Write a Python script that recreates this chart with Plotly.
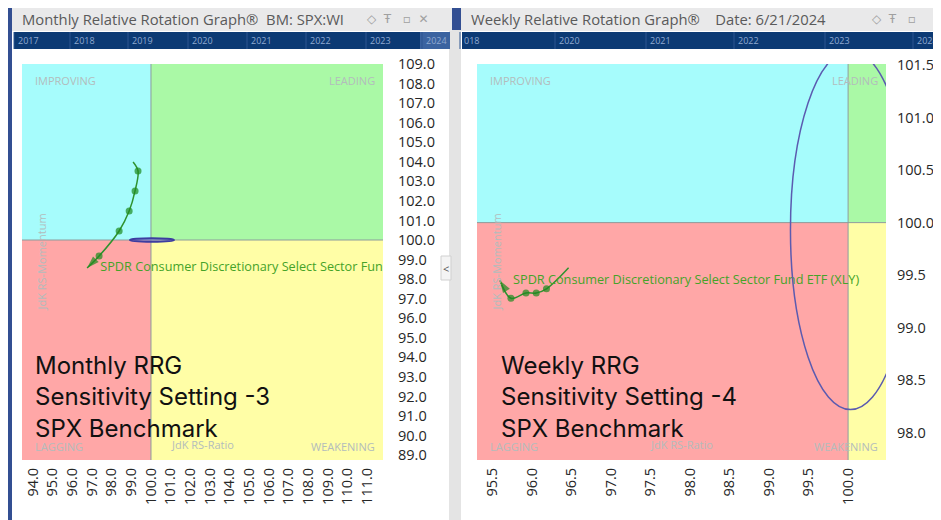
import plotly.graph_objects as go

W, H = 941, 520

# ---------------- data ----------------
# Monthly RRG trail (JdK RS-Ratio, JdK RS-Momentum), oldest -> newest
m_ratio = [99.09, 99.34, 99.19, 98.89, 98.38, 97.36, 96.75]
m_mom = [103.99, 103.53, 102.51, 101.48, 100.46, 99.18, 98.57]
# Weekly RRG trail
w_ratio = [96.46, 96.18, 96.05, 95.92, 95.73, 95.59]
w_mom = [99.57, 99.37, 99.33, 99.33, 99.28, 99.45]

series_name = "SPDR Consumer Discretionary Select Sector Fund ETF (XLY)"

m_xticks = [94.0, 95.0, 96.0, 97.0, 98.0, 99.0, 100.0, 101.0, 102.0, 103.0,
            104.0, 105.0, 106.0, 107.0, 108.0, 109.0, 110.0, 111.0]
m_yticks = [89.0, 90.0, 91.0, 92.0, 93.0, 94.0, 95.0, 96.0, 97.0, 98.0, 99.0,
            100.0, 101.0, 102.0, 103.0, 104.0, 105.0, 106.0, 107.0, 108.0, 109.0]
w_xticks = [95.5, 96.0, 96.5, 97.0, 97.5, 98.0, 98.5, 99.0, 99.5, 100.0]
w_yticks = [98.0, 98.5, 99.0, 99.5, 100.0, 100.5, 101.0, 101.5]

m_years = ["2017", "2018", "2019", "2020", "2021", "2022", "2023", "2024"]
w_years = ["018", "2020", "2021", "2022", "2023", "2024"]

# ---------------- helpers ----------------
OFF = 8  # page offset of the figure inside the browser window


def px(x):
    return (x - OFF) / W


def py(y):
    return 1 - (y - OFF) / H


M_XR = [93.44, 111.8]
M_YR = [88.75, 109.0]
W_XR = [95.30, 100.48]
W_YR = [97.74, 101.51]

C_IMP = "#a6fcfc"
C_LEAD = "#aaf9a6"
C_LAG = "#ffa7a7"
C_WEAK = "#fffea6"
C_DIV = "#8c9c9c"
C_TRAIL = "#2f922f"
C_LABEL = "#45a329"
C_ZONE = "#b3bcbc"
FONT = "Open Sans"

fig = go.Figure()

shapes = []
annotations = []


def rect_paper(x0, y0, x1, y1, color, line=None):
    shapes.append(dict(type="rect", xref="paper", yref="paper",
                       x0=px(x0), x1=px(x1), y0=py(y1), y1=py(y0),
                       fillcolor=color, line=dict(width=0) if line is None else line,
                       layer="below"))


# panels
rect_paper(12, 8, 450, 530, "#ffffff")
rect_paper(449, 30, 461, 530, "#e4e4e4")
rect_paper(461, 8, 951, 530, "#ffffff")
# title bars
rect_paper(12, 8, 452, 31, "#e9e9ea")
rect_paper(461, 8, 951, 31, "#e9e9ea")
# timeline strips
rect_paper(14, 32, 450, 49, "#0c3a74")
rect_paper(420, 32, 450, 49, "#3b63a0")
rect_paper(462, 32, 951, 49, "#0c3a74")
# small tab
rect_paper(441, 256, 451, 280, "#f4f4f4", line=dict(color="#d0d0d0", width=1))
annotations.append(dict(x=px(446), y=py(268), xref="paper", yref="paper", text="<",
                        showarrow=False, font=dict(size=11, color="#555", family=FONT)))

m_year_x = [16, 72, 130, 190, 249, 308, 368, 424]
w_year_x = [462, 557, 648, 736, 827, 915]
for labels, xs in ((m_years, m_year_x), (w_years, w_year_x)):
    for label, xp in zip(labels, xs):
        annotations.append(dict(x=px(xp), y=py(40.5), xref="paper", yref="paper", text=label,
                                showarrow=False, xanchor="left", yanchor="middle",
                                font=dict(size=9, color="#8fa9d0", family=FONT)))
        shapes.append(dict(type="line", xref="paper", yref="paper", x0=px(xp - 2), x1=px(xp - 2),
                           y0=py(49), y1=py(32), line=dict(color="#2d5590", width=1),
                           layer="below"))

annotations.append(dict(x=px(20), y=py(19), xref="paper", yref="paper",
                        text="Monthly Relative Rotation Graph®  BM: SPX:WI", showarrow=False,
                        xanchor="left", yanchor="middle",
                        font=dict(size=14.8, color="#5a5a5a", family=FONT)))
annotations.append(dict(x=px(365), y=py(19), xref="paper", yref="paper",
                        text="◇  Ŧ   ▫  ✕", showarrow=False, xanchor="left", yanchor="middle",
                        font=dict(size=12, color="#a0a0a0", family="DejaVu Sans")))
annotations.append(dict(x=px(469), y=py(19), xref="paper", yref="paper",
                        text="Weekly Relative Rotation Graph®    Date: 6/21/2024", showarrow=False,
                        xanchor="left", yanchor="middle",
                        font=dict(size=14.8, color="#5a5a5a", family=FONT)))
annotations.append(dict(x=px(870), y=py(19), xref="paper", yref="paper",
                        text="◇  Ŧ   ▫", showarrow=False, xanchor="left", yanchor="middle",
                        font=dict(size=12, color="#a0a0a0", family="DejaVu Sans")))


# ---------- quadrants ----------
def quadrants(xa, ya, xr, yr):
    for (x0, x1, y0, y1, c) in [
        (xr[0], 100, 100, yr[1], C_IMP),
        (100, xr[1], 100, yr[1], C_LEAD),
        (xr[0], 100, yr[0], 100, C_LAG),
        (100, xr[1], yr[0], 100, C_WEAK),
    ]:
        shapes.append(dict(type="rect", xref=xa, yref=ya, x0=x0, x1=x1, y0=y0, y1=y1,
                           fillcolor=c, line=dict(width=0), layer="below"))
    shapes.append(dict(type="line", xref=xa, yref=ya, x0=100, x1=100, y0=yr[0], y1=yr[1],
                       line=dict(color=C_DIV, width=1), layer="below"))
    shapes.append(dict(type="line", xref=xa, yref=ya, x0=xr[0], x1=xr[1], y0=100, y1=100,
                       line=dict(color=C_DIV, width=1), layer="below"))
    d = xa + " domain"
    e = ya + " domain"
    zf = dict(size=11, color=C_ZONE, family=FONT)
    annotations.extend([
        dict(x=0, y=1, xref=d, yref=e, text="IMPROVING", showarrow=False, xanchor="left",
             yanchor="top", xshift=11, yshift=-7, font=zf),
        dict(x=1, y=1, xref=d, yref=e, text="LEADING", showarrow=False, xanchor="right",
             yanchor="top", xshift=-6, yshift=-7, font=zf),
        dict(x=0, y=0, xref=d, yref=e, text="LAGGING", showarrow=False, xanchor="left",
             yanchor="bottom", xshift=11, yshift=4, font=zf),
        dict(x=1, y=0, xref=d, yref=e, text="WEAKENING", showarrow=False, xanchor="right",
             yanchor="bottom", xshift=-6, yshift=4, font=zf),
        dict(x=0.5, y=0, xref=d, yref=e, text="JdK RS-Ratio", showarrow=False,
             yanchor="bottom", yshift=6, font=zf),
        dict(x=0, y=0.5, xref=d, yref=e, text="JdK RS-Momentum", showarrow=False,
             textangle=-90, xanchor="left", xshift=9, font=zf),
    ])


quadrants("x", "y", M_XR, M_YR)
quadrants("x2", "y2", W_XR, W_YR)

# ---------- rotation ellipses ----------
shapes.append(dict(type="circle", xref="x", yref="y", x0=98.93, x1=101.17, y0=99.91, y1=100.09,
                   line=dict(color="#3d3da0", width=2), fillcolor="rgba(120,120,210,0.5)"))
shapes.append(dict(type="circle", xref="x2", yref="y2", x0=99.27, x1=100.79, y0=98.22, y1=101.64,
                   line=dict(color="#5b5bb0", width=1.5)))


# ---------- trails ----------
def trail(xs, ys, xa, ya):
    n = len(xs)
    sizes = [0] + [7] * (n - 2) + [13]
    symbols = ["circle"] * (n - 1) + ["arrow"]
    fig.add_trace(go.Scatter(x=xs, y=ys, xaxis=xa, yaxis=ya, mode="lines+markers",
                             line=dict(color=C_TRAIL, width=1.5, shape="spline"),
                             marker=dict(size=sizes, symbol=symbols, color="#1e8a1e",
                                         angleref="previous", line=dict(width=0)),
                             hoverinfo="skip", cliponaxis=True))
    fig.add_trace(go.Scatter(x=[xs[-1]], y=[ys[-1]], xaxis=xa, yaxis=ya, mode="text",
                             text=["    " + series_name], textposition="middle right",
                             textfont=dict(size=12.7, color=C_LABEL, family=FONT),
                             hoverinfo="skip", cliponaxis=True))


trail(m_ratio, m_mom, "x", "y")
trail(w_ratio, w_mom, "x2", "y2")

# ---------- overlay text ----------
for xp, lines in [(33, ["Monthly RRG", "Sensitivity Setting -3", "SPX Benchmark"]),
                  (499, ["Weekly RRG", "Sensitivity Setting -4", "SPX Benchmark"])]:
    for i, t in enumerate(lines):
        annotations.append(dict(x=px(xp), y=py(365 + 31.5 * i), xref="paper", yref="paper",
                                text=t, showarrow=False, xanchor="left", yanchor="middle",
                                font=dict(size=24, color="#111111", family="Inter")))

# ---------- axes ----------
tickfont = dict(size=14.5, color="#262626", family=FONT)
common_x = dict(showgrid=False, zeroline=False, showline=False, tickangle=-90, tickmode="array",
                tickformat=".1f", tickfont=tickfont, ticks="", ticklabelstandoff=4,
                fixedrange=True, automargin=False)
common_y = dict(showgrid=False, zeroline=False, showline=False, side="right", tickmode="array",
                tickformat=".1f", tickfont=tickfont, ticks="", fixedrange=True, automargin=False)

fig.update_layout(
    template="none",
    width=W, height=H,
    autosize=False,
    margin=dict(l=0, r=0, t=0, b=0, pad=0, autoexpand=False),
    paper_bgcolor="#334f92",
    plot_bgcolor="#ffffff",
    showlegend=False,
    xaxis=dict(common_x, domain=[px(22), px(383)], range=M_XR, tickvals=m_xticks, anchor="y"),
    yaxis=dict(common_y, domain=[py(460), py(64)], range=M_YR, tickvals=m_yticks, anchor="x",
               ticklabelstandoff=14),
    xaxis2=dict(common_x, domain=[px(477), px(886)], range=W_XR, tickvals=w_xticks, anchor="y2"),
    yaxis2=dict(common_y, domain=[py(460), py(64)], range=W_YR, tickvals=w_yticks, anchor="x2",
                ticklabelstandoff=10),
    shapes=shapes,
    annotations=annotations,
)

fig.write_html("out.html")
